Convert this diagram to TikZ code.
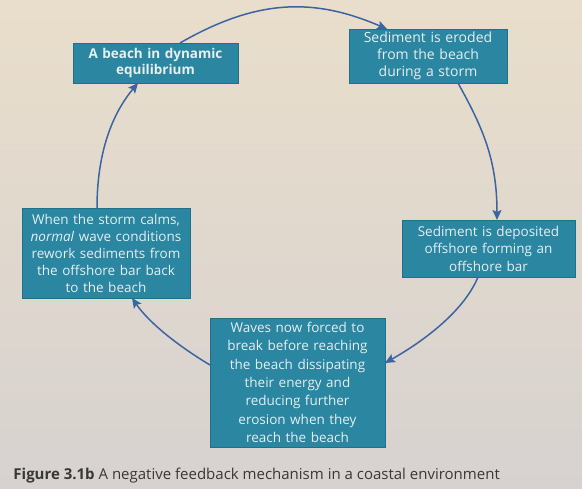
\documentclass[tikz,border=0pt]{standalone}
\usepackage{fontspec}
\setmainfont{Open Sans}
\usetikzlibrary{arrows.meta}
\definecolor{boxfill}{HTML}{2A86A1}
\definecolor{boxedge}{HTML}{226F88}
\definecolor{boxtext}{HTML}{E6EFF1}
\definecolor{arrowblue}{HTML}{3C64A0}
\definecolor{bgtop}{HTML}{E9DECB}
\definecolor{bgbot}{HTML}{D7D2D0}
\definecolor{captext}{HTML}{383838}
\tikzset{
  stagebox/.style={draw=boxedge, line width=0.8pt, fill=boxfill, text=boxtext,
    inner sep=0pt, outer sep=0pt, align=center,
    font=\fontsize{13.5}{17.5}\selectfont},
  cyclearrow/.style={draw=arrowblue, line width=1.5pt,
    -{Stealth[length=10pt,width=9pt,inset=2pt]}}
}
\begin{document}
\begin{tikzpicture}[x=1pt,y=-1pt]
\useasboundingbox (0,0) rectangle (582,489);
\shade[top color=bgtop, bottom color=bgbot] (0,0) rectangle (582,489);

\node[stagebox, text width=165pt, minimum height=40pt, font=\fontsize{13.5}{16.7}\selectfont\bfseries]
  (b1) at (155.5,63) {A beach in dynamic\\equilibrium};
\node[stagebox, text width=158pt, minimum height=54pt, font=\fontsize{14}{16.7}\selectfont]
  (b2) at (428,56) {Sediment is eroded\\from the beach\\during a storm};
\node[stagebox, text width=173pt, minimum height=57pt]
  (b3) at (488.5,248.5) {Sediment is deposited\\offshore forming an\\offshore bar};
\node[stagebox, text width=168pt, minimum height=90pt, font=\fontsize{13.5}{17}\selectfont]
  (b4) at (106,253) {When the storm calms,\\\textit{normal} wave conditions\\rework sediments from\\the offshore bar back\\to the beach};
\node[stagebox, text width=175pt, minimum height=129pt, font=\fontsize{13.5}{18.3}\selectfont]
  (b5) at (297.5,382.5) {Waves now forced to\\break before reaching\\the beach dissipating\\their energy and\\reducing further\\erosion when they\\reach the beach};

\draw[cyclearrow] ([xshift=24.5pt]b1.north) .. controls +(79,-45.5) and +(-71,-30.5) .. ([xshift=-41pt]b2.north);
\draw[cyclearrow] ([xshift=30pt]b2.south) .. controls +(25,45) and +(0,-60) .. ([xshift=8.5pt]b3.north);
\draw[cyclearrow] ([xshift=-10.5pt]b3.south) .. controls +(-14,34) and +(39,-22) .. ([yshift=19.5pt]b5.east);
\draw[cyclearrow] ([yshift=17.5pt]b5.west) .. controls +(-30,-18) and +(18,26) .. ([xshift=26pt]b4.south);
\draw[cyclearrow] ([xshift=-9pt]b4.north) .. controls +(0,-55) and +(-26,31) .. ([xshift=-17.5pt]b1.south);

\node[anchor=base east, text=captext, font=\fontsize{15}{17}\selectfont, inner sep=0pt]
  (cap) at (500,480) {\textbf{Figure 3.1b} A negative feedback mechanism in a coastal environment};
\end{tikzpicture}
\end{document}
